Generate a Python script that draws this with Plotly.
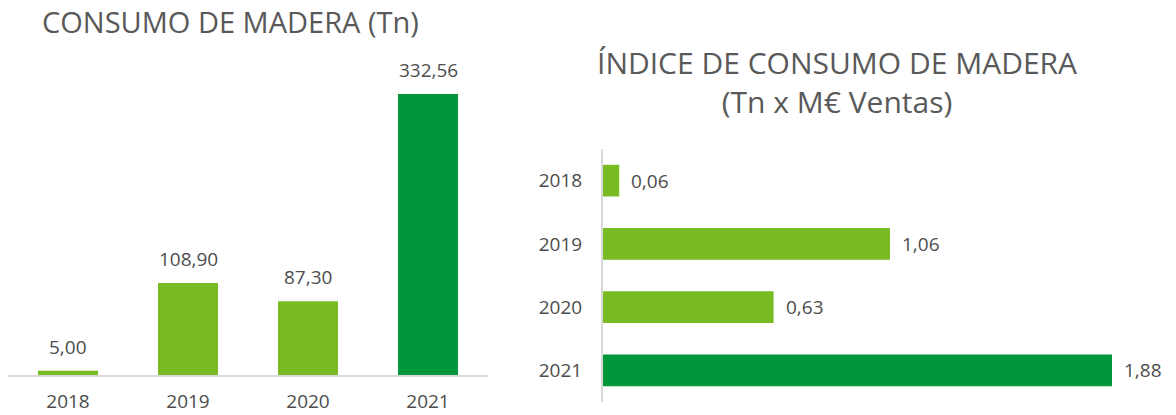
import plotly.graph_objects as go

W, H = 1176, 415

years = ["2018", "2019", "2020", "2021"]
consumo = [5.00, 108.90, 87.30, 332.56]
indice = [0.06, 1.06, 0.63, 1.88]
colors = ["#78BB22", "#78BB22", "#78BB22", "#00963A"]

title_left = "CONSUMO DE MADERA (Tn)"
title_right = "ÍNDICE DE CONSUMO DE MADERA<br>(Tn x M€ Ventas)"

TXT = "#595959"
LBL_C = "#4D4D4D"
FONT = "Open Sans"
LBL = 19

def px_x(p):
    return p / W

def px_y(p):
    return 1 - p / H

fig = go.Figure()

fig.add_trace(go.Bar(
    x=years, y=consumo, marker=dict(color=colors, line=dict(width=0)),
    xaxis="x", yaxis="y", hoverinfo="skip", width=0.5,
))
fig.add_trace(go.Bar(
    x=indice, y=years, orientation="h", marker=dict(color=colors, line=dict(width=0)),
    xaxis="x2", yaxis="y2", hoverinfo="skip", width=0.5,
))

annotations = []
for i, v in enumerate(consumo):
    annotations.append(dict(
        x=i, y=v, xref="x", yref="y", text=f"{v:.2f}".replace(".", ","),
        showarrow=False, yanchor="bottom", yshift=9,
        font=dict(family=FONT, size=LBL, color=LBL_C),
    ))
for i, v in enumerate(indice):
    annotations.append(dict(
        x=v, y=i, xref="x2", yref="y2", text=f"{v:.2f}".replace(".", ","),
        showarrow=False, xanchor="left", xshift=10,
        font=dict(family=FONT, size=LBL, color=LBL_C),
    ))
annotations.append(dict(
    x=px_x(230), y=px_y(21), xref="paper", yref="paper", text=title_left,
    showarrow=False, xanchor="center", yanchor="middle",
    font=dict(family=FONT, size=29, color=TXT),
))
annotations.append(dict(
    x=px_x(837), y=px_y(82), xref="paper", yref="paper", text=title_right,
    showarrow=False, xanchor="center", yanchor="middle",
    font=dict(family=FONT, size=30, color=TXT),
))

scale_left = (375 - 94) / consumo[3]
top_left = 60
scale_right = (1112 - 603) / indice[3]

fig.update_layout(
    width=W, height=H,
    margin=dict(l=0, r=0, t=0, b=0),
    paper_bgcolor="white", plot_bgcolor="white",
    showlegend=False,
    annotations=annotations,
    xaxis=dict(
        domain=[px_x(8), px_x(488)], type="category",
        categoryorder="array", categoryarray=years,
        range=[-0.5, len(years) - 0.5],
        showgrid=False, showline=True, linecolor="#D9D9D9", linewidth=2,
        ticks="", ticklabelstandoff=8,
        tickfont=dict(family=FONT, size=LBL, color=LBL_C),
        fixedrange=True,
    ),
    yaxis=dict(
        domain=[px_y(375), px_y(top_left)],
        range=[0, (375 - top_left) / scale_left],
        showgrid=False, showline=False, showticklabels=False, zeroline=False,
        fixedrange=True,
    ),
    xaxis2=dict(
        domain=[px_x(603), px_x(1172)], anchor="y2",
        range=[0, (1172 - 603) / scale_right],
        showgrid=False, showline=False, showticklabels=False, zeroline=False,
        fixedrange=True,
    ),
    yaxis2=dict(
        domain=[px_y(402), px_y(149)], anchor="x2", type="category",
        categoryorder="array", categoryarray=years,
        range=[len(years) - 0.5, -0.5],
        showgrid=False, showline=True, linecolor="#D9D9D9", linewidth=2,
        ticks="", ticklabelstandoff=15,
        tickfont=dict(family=FONT, size=LBL, color=LBL_C),
        fixedrange=True,
    ),
)

fig.write_html("out.html", config={"displayModeBar": False},
               post_script="document.body.style.margin='0';")
